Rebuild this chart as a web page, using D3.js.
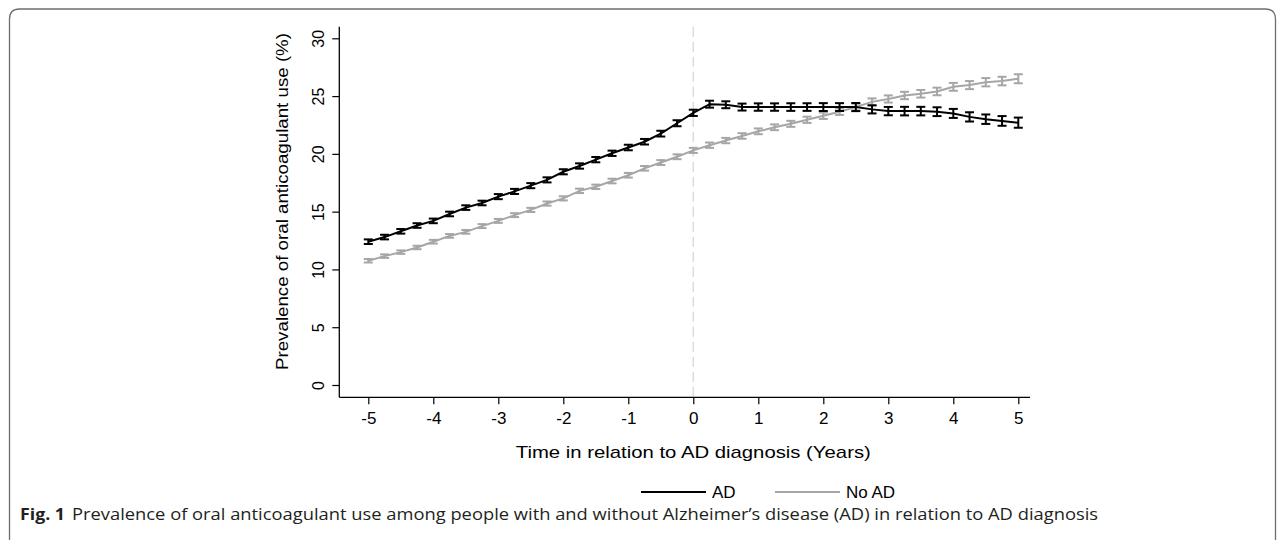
<!DOCTYPE html>
<html><head><meta charset="utf-8">
<script src="https://cdn.jsdelivr.net/npm/d3@7"></script>
<style>body{margin:0;background:#fff;}svg{display:block;}</style>
</head><body>
<svg id="c" width="1284" height="540"></svg>
<script>
const years = [-5,-4.75,-4.5,-4.25,-4,-3.75,-3.5,-3.25,-3,-2.75,-2.5,-2.25,-2,-1.75,-1.5,-1.25,-1,-0.75,-0.5,-0.25,0,0.25,0.5,0.75,1,1.25,1.5,1.75,2,2.25,2.5,2.75,3,3.25,3.5,3.75,4,4.25,4.5,4.75,5];
const adValues = [12.4,12.8,13.3,13.8,14.2,14.8,15.35,15.75,16.3,16.75,17.25,17.75,18.45,18.95,19.5,20.05,20.55,21.05,21.75,22.65,23.55,24.3,24.25,24.05,24.05,24.05,24.05,24.05,24.05,24.05,24.05,23.85,23.7,23.7,23.7,23.65,23.5,23.2,23.0,22.85,22.7];
const adCI = [0.2,0.2,0.2,0.2,0.2,0.2,0.2,0.2,0.22,0.22,0.22,0.22,0.22,0.23,0.23,0.23,0.24,0.24,0.25,0.26,0.27,0.3,0.3,0.3,0.32,0.32,0.33,0.33,0.34,0.34,0.35,0.35,0.36,0.37,0.37,0.38,0.39,0.4,0.41,0.42,0.44];
const noAdValues = [10.75,11.15,11.5,11.9,12.4,12.9,13.25,13.75,14.2,14.7,15.15,15.7,16.15,16.8,17.15,17.65,18.15,18.75,19.25,19.75,20.3,20.75,21.15,21.55,21.95,22.3,22.6,22.95,23.3,23.65,24.05,24.5,24.75,25.05,25.2,25.4,25.8,25.95,26.2,26.3,26.5];
const noAdCI = [0.15,0.15,0.15,0.15,0.16,0.16,0.16,0.17,0.17,0.17,0.18,0.18,0.18,0.19,0.19,0.2,0.2,0.2,0.21,0.21,0.22,0.23,0.23,0.24,0.25,0.25,0.26,0.27,0.28,0.28,0.29,0.3,0.31,0.32,0.33,0.33,0.34,0.35,0.36,0.37,0.39];
const xTicks = [-5,-4,-3,-2,-1,0,1,2,3,4,5];
const yTicks = [0,5,10,15,20,25,30];
const seriesNames = ["AD","No AD"];
const seriesColors = ["#000000","#a6a6a6"];
const xTitle = "Time in relation to AD diagnosis (Years)";
const yTitle = "Prevalence of oral anticoagulant use (%)";
const captionBold = "Fig. 1";
const captionText = "Prevalence of oral anticoagulant use among people with and without Alzheimer\u2019s disease (AD) in relation to AD diagnosis";

const svg = d3.select("#c");
const FONT = "'Liberation Sans', Arial, sans-serif";
const CAPFONT = "'Open Sans', 'Noto Sans', sans-serif";

// figure frame
const fx0 = 9.5, fy0 = 9, fx1 = 1275.5, r = 10;
svg.append("path")
  .attr("d", `M${fx0},540 L${fx0},${fy0+r} Q${fx0},${fy0} ${fx0+r},${fy0} L${fx1-r},${fy0} Q${fx1},${fy0} ${fx1},${fy0+r} L${fx1},540`)
  .attr("fill","none").attr("stroke","#6d6d6d").attr("stroke-width",1.3);

const x = d3.scaleLinear().domain([-5,5]).range([368.3,1018.3]);
const y = d3.scaleLinear().domain([0,30]).range([385,38.3]);
const axisX = 339.3, axisY = 397.3;

const g = svg.append("g");

// reference dashed line at 0
g.append("line").attr("x1",x(0)).attr("x2",x(0)).attr("y1",y(31)).attr("y2",axisY)
  .attr("stroke","#dcdcdc").attr("stroke-width",1.5).attr("stroke-dasharray","10,5");

// axes
const xAxis = d3.axisBottom(x).tickValues(xTicks).tickSize(7).tickPadding(8).tickFormat(d3.format("d"));
const gx = g.append("g").attr("transform",`translate(0,${axisY})`).call(xAxis);
gx.select(".domain").remove();
gx.append("line").attr("x1",axisX).attr("x2",1030).attr("y1",0).attr("y2",0).attr("stroke","#000").attr("stroke-width",1.3);
gx.selectAll(".tick line").attr("stroke","#000").attr("stroke-width",1.2);
gx.selectAll(".tick text").attr("font-family",FONT).attr("font-size",17).attr("fill","#000")
  .text(d => d < 0 ? "-" + Math.abs(d) : d);

const yAxis = d3.axisLeft(y).tickValues(yTicks).tickSize(7).tickPadding(0).tickFormat(d3.format("d"));
const gy = g.append("g").attr("transform",`translate(${axisX},0)`).call(yAxis);
gy.select(".domain").remove();
gy.append("line").attr("x1",0).attr("x2",0).attr("y1",y(31)).attr("y2",axisY).attr("stroke","#000").attr("stroke-width",1.3);
gy.selectAll(".tick line").attr("stroke","#000").attr("stroke-width",1.2);
gy.selectAll(".tick text").attr("font-family",FONT).attr("font-size",16).attr("fill","#000")
  .attr("x",null).attr("dy",null)
  .attr("transform","translate(-15,0) rotate(-90)")
  .attr("text-anchor","middle").attr("dominant-baseline","auto");

// titles
g.append("text").attr("x",x(0)).attr("y",458).attr("text-anchor","middle")
  .attr("font-family",FONT).attr("font-size",17).attr("fill","#000").text(xTitle)
  .attr("textLength",355).attr("lengthAdjust","spacingAndGlyphs");
g.append("text").attr("transform",`translate(288,201.5) rotate(-90)`).attr("text-anchor","middle")
  .attr("font-family",FONT).attr("font-size",17).attr("fill","#000").text(yTitle)
  .attr("textLength",337).attr("lengthAdjust","spacingAndGlyphs");

// series
const seriesData = [
  {name: seriesNames[1], color: seriesColors[1], vals: noAdValues, ci: noAdCI},
  {name: seriesNames[0], color: seriesColors[0], vals: adValues, ci: adCI}
];
const line = d3.line().x(d => x(d.t)).y(d => y(d.v));
seriesData.forEach(s => {
  const pts = years.map((t,i) => ({t, v: s.vals[i], c: s.ci[i]}));
  const sg = g.append("g");
  sg.append("path").datum(pts).attr("d", line).attr("fill","none").attr("stroke", s.color).attr("stroke-width",2);
  const eb = sg.selectAll("g.eb").data(pts).join("g");
  eb.append("line").attr("x1",d=>x(d.t)).attr("x2",d=>x(d.t)).attr("y1",d=>y(d.v-d.c)).attr("y2",d=>y(d.v+d.c))
    .attr("stroke", s.color).attr("stroke-width",2);
  eb.append("line").attr("x1",d=>x(d.t)-4.5).attr("x2",d=>x(d.t)+4.5).attr("y1",d=>y(d.v-d.c)).attr("y2",d=>y(d.v-d.c))
    .attr("stroke", s.color).attr("stroke-width",2);
  eb.append("line").attr("x1",d=>x(d.t)-4.5).attr("x2",d=>x(d.t)+4.5).attr("y1",d=>y(d.v+d.c)).attr("y2",d=>y(d.v+d.c))
    .attr("stroke", s.color).attr("stroke-width",2);
});

// legend
const leg = svg.append("g");
const legItems = [{name: seriesNames[0], color: seriesColors[0], x0: 641},{name: seriesNames[1], color: seriesColors[1], x0: 775}];
legItems.forEach(it => {
  leg.append("line").attr("x1",it.x0).attr("x2",it.x0+65).attr("y1",492).attr("y2",492).attr("stroke",it.color).attr("stroke-width",2);
  leg.append("text").attr("x",it.x0+71).attr("y",498).attr("font-family",FONT).attr("font-size",17).attr("fill","#000").text(it.name);
});

// caption
svg.append("text").attr("x",20).attr("y",520).attr("font-family",CAPFONT).attr("font-size",16.5)
  .attr("font-weight","bold").attr("fill","#231f20").text(captionBold)
  .attr("textLength",45).attr("lengthAdjust","spacingAndGlyphs");
svg.append("text").attr("x",72).attr("y",520).attr("font-family",CAPFONT).attr("font-size",16.5)
  .attr("fill","#231f20").text(captionText)
  .attr("textLength",1026).attr("lengthAdjust","spacingAndGlyphs");
</script>
</body></html>
